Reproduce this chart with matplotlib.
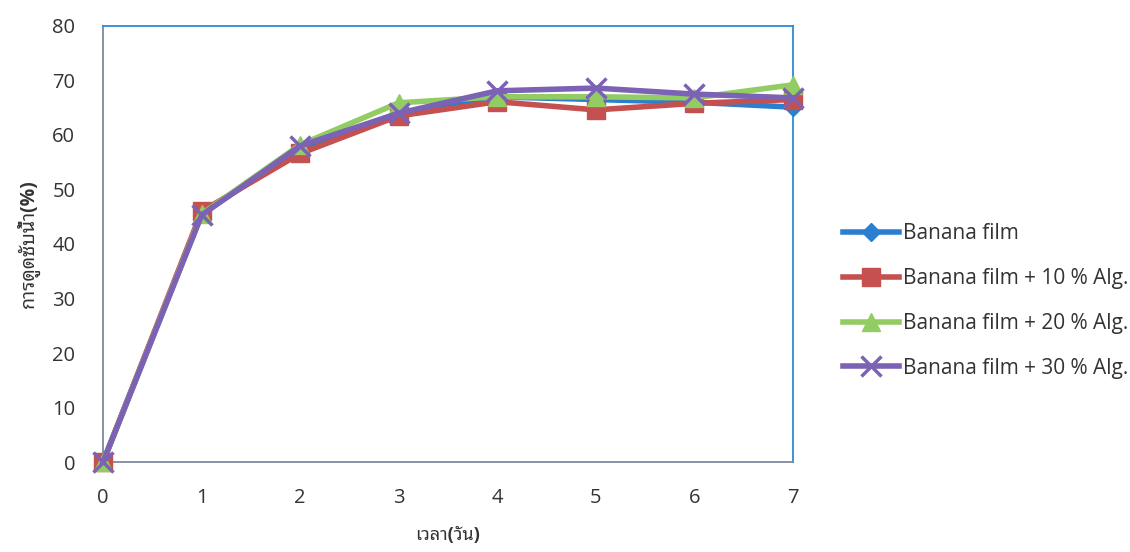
import matplotlib
matplotlib.use("Agg")
import matplotlib.pyplot as plt

# water absorption (%) per day
days = [0, 1, 2, 3, 4, 5, 6, 7]
banana = [0, 45.5, 57.5, 64.0, 67.0, 66.5, 66.0, 65.1]
alg10 = [0, 46.0, 56.6, 63.5, 66.1, 64.6, 65.8, 66.5]
alg20 = [0, 45.5, 58.2, 65.9, 67.0, 67.0, 66.8, 69.2]
alg30 = [0, 45.3, 58.0, 64.0, 68.1, 68.6, 67.5, 66.8]

labels = ['Banana film', 'Banana film + 10 % Alg.',
          'Banana film + 20 % Alg.', 'Banana film + 30 % Alg.']
yticks = [0, 10, 20, 30, 40, 50, 60, 70, 80]

plt.rcParams['font.family'] = ['Open Sans', 'Noto Sans Thai Looped', 'DejaVu Sans']

fig = plt.figure(figsize=(11.3, 5.52), dpi=100)
ax = fig.add_axes([0.0912, 0.163, 0.6106, 0.790])

styles = [
    dict(color='#2a7fcf', marker='D', ms=9),
    dict(color='#c4504f', marker='s', ms=13),
    dict(color='#92cc62', marker='^', ms=13),
    dict(color='#7b62b4', marker='x', ms=14, mew=2.5),
]
series = [banana, alg10, alg20, alg30]
for vals, lab, st in zip(series, labels, styles):
    ax.plot(days, vals, lw=4, label=lab, clip_on=False, zorder=3, **st)

ax.set_xlim(0, 7)
ax.set_ylim(0, 80)
ax.set_xticks(days)
ax.set_yticks(yticks)
ax.tick_params(length=0, labelsize=14.5, labelcolor='#333333')
ax.tick_params(axis='y', pad=20)
ax.tick_params(axis='x', pad=19)

for side in ['top', 'right']:
    ax.spines[side].set_color('#2f8ad4')
    ax.spines[side].set_linewidth(1.3)
for side in ['left', 'bottom']:
    ax.spines[side].set_color('#8088a0')
    ax.spines[side].set_linewidth(1.3)

ax.set_xlabel('เวลา(วัน)', fontsize=13, fontweight='bold', color='#333333',
              labelpad=13)
ax.set_ylabel('การดูดซับน้ำ(%)', fontsize=14, fontweight='bold', color='#333333',
              labelpad=9)

fig.legend(loc='center left', bbox_to_anchor=(0.737, 0.455), frameon=False,
           fontsize=15, handlelength=2.7, handletextpad=0.15, labelspacing=1.15,
           borderpad=0, labelcolor='#333333')

fig.savefig('out.png')
